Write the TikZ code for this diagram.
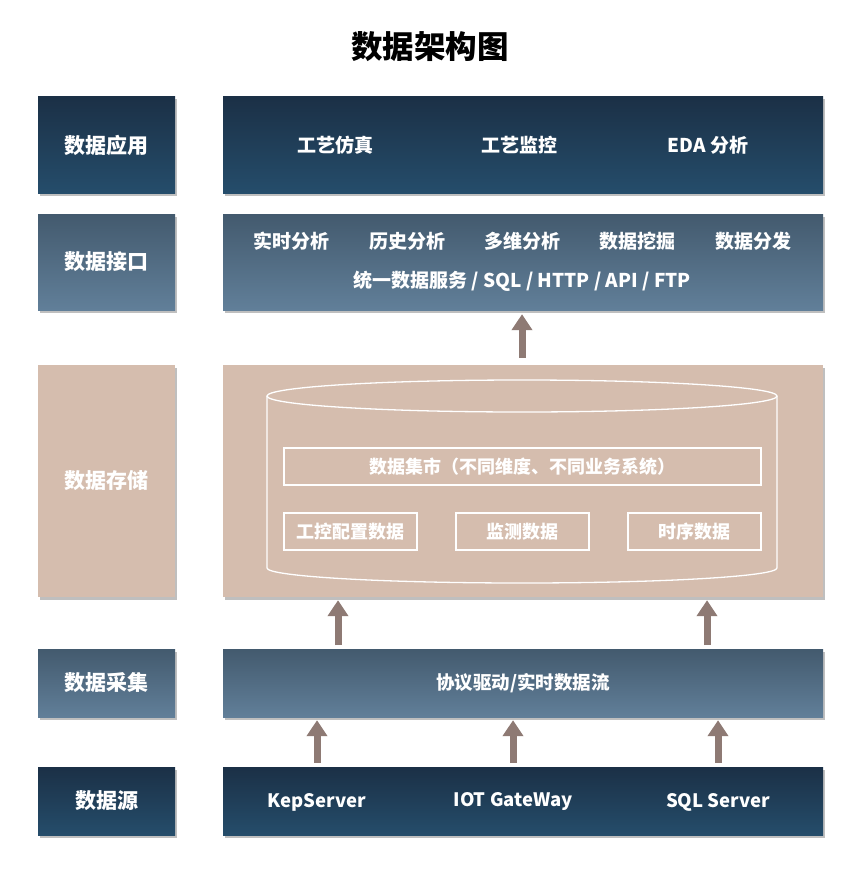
\documentclass[tikz,border=0pt]{standalone}
\usepackage{fontspec}
\setmainfont{Noto Sans CJK SC}
\usetikzlibrary{arrows.meta,positioning,shadows,calc}

\definecolor{navytop}{HTML}{1B3046}
\definecolor{navybot}{HTML}{254D6B}
\definecolor{slatetop}{HTML}{435A6E}
\definecolor{slatebot}{HTML}{617F99}
\definecolor{sand}{HTML}{D5BDAE}
\definecolor{arrowbrown}{HTML}{8E7A74}

\tikzset{
  layer/.style={rectangle, draw=none, inner sep=0pt, text=white,
    drop shadow={shadow xshift=2pt, shadow yshift=-2.5pt, opacity=0.25, fill=black}},
  navybox/.style={layer, top color=navytop, bottom color=navybot},
  slatebox/.style={layer, top color=slatetop, bottom color=slatebot},
  sandbox/.style={layer, fill=sand},
  labelbox/.style={minimum width=137pt, font=\bfseries\fontsize{21}{25}\selectfont},
  rowbox/.style={minimum width=600pt},
  item/.style={text=white, font=\bfseries\fontsize{18.5}{22}\selectfont},
  martbox/.style={draw=white, line width=1.3pt, minimum height=37pt, inner sep=0pt,
    text=white, font=\bfseries\fontsize{18}{22}\selectfont},
  uparrow/.style={draw=arrowbrown, line width=7pt,
    -{Triangle[width=20pt,length=16pt]}, shorten <=4pt, shorten >=3pt}
}

\begin{document}
\begin{tikzpicture}[x=1pt,y=-1pt]
\useasboundingbox[fill=white] (0,0) rectangle (860,872);

% title
\node[font=\bfseries\fontsize{31.5}{36}\selectfont] (title) at (430,47) {数据架构图};

% left column
\node[navybox, labelbox, minimum height=96pt] (lapp) at (106.5,145) {数据应用};
\node[slatebox, labelbox, minimum height=96pt] (lapi) at (106.5,262) {数据接口};
\node[sandbox, labelbox, minimum height=232pt] (lstore) at (106.5,481) {数据存储};
\node[slatebox, labelbox, minimum height=68pt] (lacq) at (106.5,683) {数据采集};
\node[navybox, labelbox, minimum height=68pt] (lsrc) at (106.5,801) {数据源};

% application layer
\node[navybox, rowbox, minimum height=96pt] (app) at (523,145) {};
\node[item, font=\bfseries\fontsize{19}{23}\selectfont] (sim) at (335,145) {工艺仿真};
\node[item, font=\bfseries\fontsize{19}{23}\selectfont] (mon) at (519,145) {工艺监控};
\node[item, font=\bfseries\fontsize{19}{23}\selectfont] (eda) at (708,145) {EDA 分析};

% interface layer
\node[slatebox, rowbox, minimum height=96pt] (api) at (523,262) {};
\node[item, font=\bfseries\fontsize{19}{23}\selectfont] (rt) at (291,241) {实时分析};
\node[item, font=\bfseries\fontsize{19}{23}\selectfont] (hist) at (407,241) {历史分析};
\node[item, font=\bfseries\fontsize{19}{23}\selectfont] (multi) at (522,241) {多维分析};
\node[item, font=\bfseries\fontsize{19}{23}\selectfont] (mine) at (637,241) {数据挖掘};
\node[item, font=\bfseries\fontsize{19}{23}\selectfont] (dist) at (753,241) {数据分发};
\node[item, font=\bfseries\fontsize{19}{23}\selectfont] (svc) at (522,281) {统一数据服务 / SQL / HTTP / API / FTP};

% storage layer
\node[sandbox, rowbox, minimum height=232pt] (store) at (523,481) {};
\draw[white, line width=1.3pt] (522,396) ellipse [x radius=255, y radius=16];
\draw[white, line width=1.3pt] (267,396) -- (267,568)
  arc[start angle=180, end angle=0, x radius=255, y radius=15] -- (777,396);
\node[martbox, minimum width=477pt] (mart) at (522.5,466.5) {数据集市（不同维度、不同业务系统）};
\node[martbox, minimum width=133pt] (ctrl) at (350.5,531.5) {工控配置数据};
\node[martbox, minimum width=133pt] (meas) at (522.5,531.5) {监测数据};
\node[martbox, minimum width=133pt] (ts) at (694.5,531.5) {时序数据};

% acquisition layer
\node[slatebox, rowbox, minimum height=68pt, font=\bfseries\fontsize{18.5}{22}\selectfont] (acq) at (523,683) {协议驱动/实时数据流};

% source layer
\node[navybox, rowbox, minimum height=68pt] (src) at (523,801) {};
\node[item] (kep) at (317,802) {KepServer};
\node[item] (iot) at (513,802) {IOT GateWay};
\node[item] (sqls) at (718,802) {SQL Server};

% flow arrows
\coordinate (inL) at (338,649);
\coordinate (inR) at (707,649);
\draw[uparrow] (src.north -| kep) -- (acq.south -| kep);
\draw[uparrow] (src.north -| iot) -- (acq.south -| iot);
\draw[uparrow] (src.north -| sqls) -- (acq.south -| sqls);
\draw[uparrow] (inL) -- (inL |- store.south);
\draw[uparrow] (inR) -- (inR |- store.south);
\draw[uparrow, shorten <=7pt, shorten >=4pt] (store.north -| multi) -- (api.south -| multi);
\end{tikzpicture}
\end{document}
